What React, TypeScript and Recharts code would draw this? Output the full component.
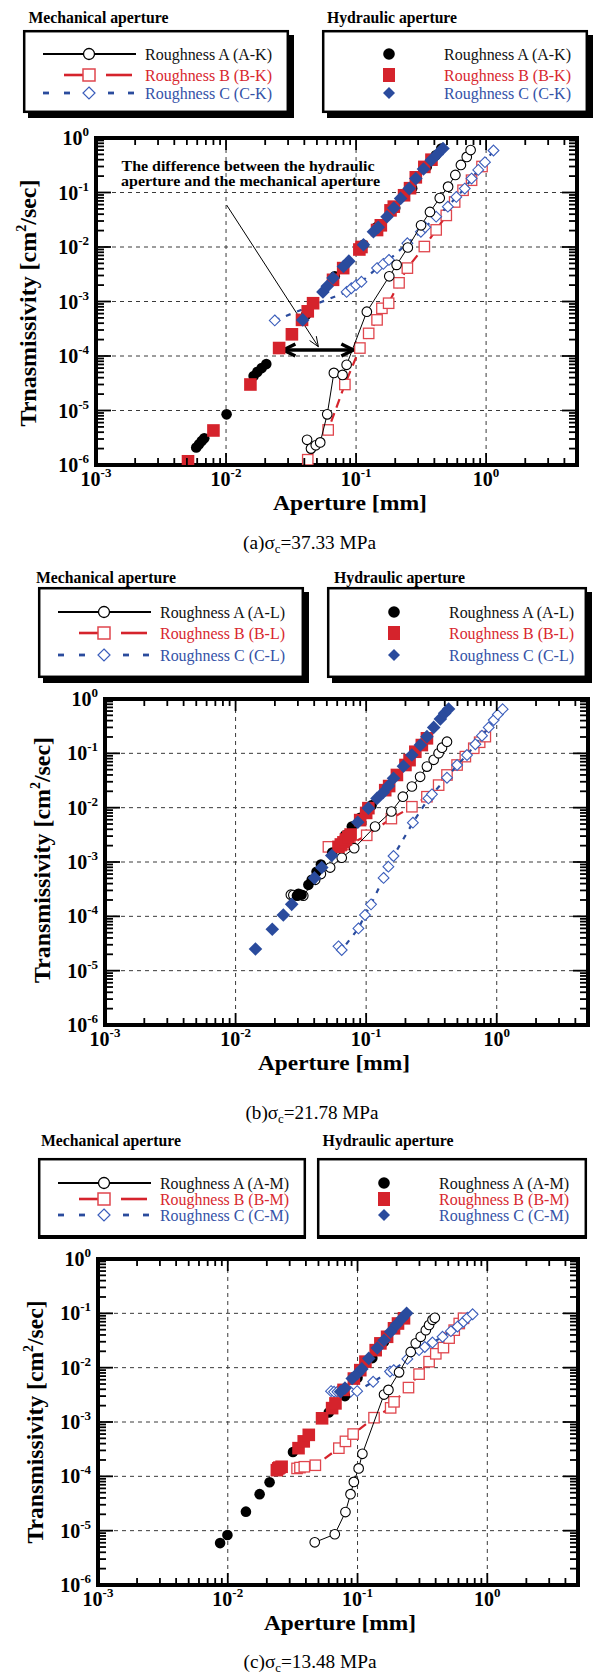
import React from "react";
import {
  ScatterChart,
  Scatter,
  XAxis,
  YAxis,
  ReferenceLine,
  ReferenceArea,
} from "recharts";

// Transmissivity vs aperture (log-log), three confining stresses.
// Open markers + lines = mechanical aperture, filled markers = hydraulic aperture.

const SERIF = '"Liberation Serif", "Times New Roman", Times, serif';
const RED = "#d5232c";
const RED_OPEN = "#e0464d";
const BLUE = "#2a4b9d";
const BLUE_OPEN = "#3a5dbb";
const RED_TEXT = "#d8282f";
const BLUE_TEXT = "#3452a7";

// ---- (a) sigma_c = 37.33 MPa : [aperture mm, transmissivity cm2/sec]
const aMechA = [
  [0.042, 2.9e-6], [0.045, 2.0e-6], [0.049, 2.3e-6], [0.053, 2.6e-6], [0.06, 8.5e-6],
  [0.0675, 4.9e-5], [0.0787, 4.5e-5], [0.0846, 6.9e-5], [0.121, 6.5e-4], [0.18, 2.9e-3],
  [0.205, 4.7e-3], [0.25, 0.0098], [0.316, 0.025], [0.37, 0.044], [0.44, 0.079],
  [0.51, 0.128], [0.58, 0.21], [0.64, 0.32], [0.71, 0.45], [0.76, 0.6],
];
const aMechB = [
  [0.0425, 1.25e-6], [0.061, 4.4e-6], [0.082, 3.0e-5], [0.107, 1.4e-4], [0.125, 2.6e-4],
  [0.145, 4.6e-4], [0.158, 7.5e-4], [0.178, 9.3e-4], [0.214, 2.2e-3], [0.248, 4.1e-3],
  [0.335, 0.0102], [0.413, 0.0206], [0.494, 0.038], [0.573, 0.067], [0.665, 0.11],
  [0.773, 0.168], [0.93, 0.3],
];
const aMechC = [
  [0.0237, 4.5e-4], [0.0846, 1.5e-3], [0.092, 1.75e-3], [0.1, 2.0e-3], [0.11, 2.3e-3],
  [0.145, 4.1e-3], [0.162, 4.9e-3], [0.179, 5.8e-3], [0.248, 0.0117], [0.315, 0.019],
  [0.34, 0.023], [0.413, 0.036], [0.508, 0.055], [0.59, 0.083], [0.685, 0.118],
  [0.773, 0.18], [0.87, 0.26], [0.98, 0.36], [1.14, 0.59],
];
const aHydA = [
  [0.0059, 2.1e-6], [0.0062, 2.4e-6], [0.0065, 2.75e-6], [0.0068, 3.1e-6], [0.0101, 8.5e-6],
  [0.0163, 4.3e-5], [0.0174, 5.1e-5], [0.0188, 6.0e-5], [0.0204, 7.1e-5], [0.0413, 5.7e-4],
  [0.0686, 2.9e-3], [0.114, 0.011], [0.145, 0.0234], [0.2, 0.052], [0.27, 0.12],
  [0.35, 0.3], [0.41, 0.48], [0.452, 0.64],
];
const aHydB = [
  [0.0051, 1.17e-6], [0.008, 4.3e-6], [0.0154, 3.0e-5], [0.0256, 1.4e-4], [0.0321, 2.5e-4],
  [0.0384, 4.6e-4], [0.0425, 6.6e-4], [0.0467, 9.3e-4], [0.0665, 2.5e-3], [0.0796, 4.1e-3],
  [0.106, 9.0e-3], [0.11, 0.01], [0.145, 0.0205], [0.155, 0.025], [0.184, 0.047],
  [0.195, 0.055], [0.234, 0.089], [0.26, 0.12], [0.288, 0.19], [0.335, 0.295], [0.38, 0.4],
];
const aHydC = [
  [0.0389, 4.6e-4], [0.0556, 1.5e-3], [0.06, 1.9e-3], [0.0665, 2.7e-3], [0.08, 4.4e-3],
  [0.088, 5.5e-3], [0.114, 0.011], [0.136, 0.019], [0.148, 0.023], [0.173, 0.036],
  [0.195, 0.052], [0.22, 0.078], [0.256, 0.118], [0.288, 0.18], [0.33, 0.27],
  [0.378, 0.39], [0.42, 0.5], [0.466, 0.64],
];

// ---- (b) sigma_c = 21.78 MPa
const bMechA = [
  [0.0265, 2.5e-4], [0.0277, 2.46e-4], [0.0303, 2.46e-4], [0.033, 2.4e-4], [0.0407, 4.7e-4],
  [0.045, 6.0e-4], [0.053, 7.9e-4], [0.065, 1.2e-3], [0.081, 1.8e-3], [0.117, 4.5e-3],
  [0.156, 8.5e-3], [0.191, 0.0159], [0.224, 0.0245], [0.259, 0.037], [0.292, 0.057],
  [0.329, 0.076], [0.359, 0.1], [0.381, 0.127], [0.416, 0.164],
];
const bMechB = [
  [0.0514, 1.9e-3], [0.064, 2.0e-3], [0.075, 2.1e-3], [0.101, 3.1e-3], [0.156, 6.3e-3],
  [0.224, 0.0104], [0.292, 0.0159], [0.359, 0.026], [0.416, 0.04], [0.497, 0.061],
  [0.575, 0.087], [0.667, 0.124], [0.74, 0.16], [0.818, 0.203],
];
const bMechC = [
  [0.0614, 2.8e-5], [0.065, 2.4e-5], [0.0873, 6.0e-5], [0.098, 1.06e-4], [0.109, 1.66e-4],
  [0.136, 5.1e-4], [0.148, 8.2e-4], [0.162, 1.29e-3], [0.228, 5.3e-3], [0.3, 0.0148],
  [0.319, 0.0176], [0.416, 0.0356], [0.497, 0.061], [0.592, 0.093], [0.686, 0.147],
  [0.771, 0.211], [0.868, 0.3], [0.949, 0.41], [1.02, 0.52], [1.11, 0.65],
];
const bHydA = [
  [0.0295, 2.4e-4], [0.0303, 2.6e-4], [0.032, 2.5e-4], [0.0361, 3.8e-4], [0.0383, 4.7e-4],
  [0.0417, 6.6e-4], [0.045, 9.0e-4], [0.055, 1.5e-3], [0.069, 3.1e-3], [0.0777, 4.5e-3],
  [0.09, 6.5e-3], [0.11, 0.011],
];
const bHydB = [
  [0.0614, 1.9e-3], [0.064, 2.1e-3], [0.067, 2.3e-3], [0.07, 2.6e-3], [0.073, 2.9e-3],
  [0.076, 3.2e-3], [0.09, 5.9e-3], [0.1, 8.0e-3], [0.104, 0.0098], [0.14, 0.021],
  [0.15, 0.025], [0.172, 0.04], [0.2, 0.061], [0.215, 0.075], [0.238, 0.107],
  [0.267, 0.142], [0.292, 0.189],
];
const bHydC = [
  [0.0142, 2.5e-5], [0.0191, 5.8e-5], [0.0232, 1.06e-4], [0.0269, 1.66e-4], [0.0402, 5.1e-4],
  [0.0457, 7.9e-4], [0.0545, 1.32e-3], [0.0863, 5.4e-3], [0.104, 9.8e-3], [0.121, 0.0148],
  [0.135, 0.019], [0.148, 0.025], [0.162, 0.0347], [0.193, 0.058], [0.224, 0.093],
  [0.26, 0.142], [0.292, 0.203], [0.329, 0.3], [0.37, 0.43], [0.399, 0.545], [0.428, 0.654],
];

// ---- (c) sigma_c = 13.48 MPa
const cMechA = [
  [0.0468, 6.1e-6], [0.0668, 8.6e-6], [0.0807, 2.2e-5], [0.0883, 4.7e-5], [0.0937, 7.9e-5],
  [0.102, 1.4e-4], [0.109, 2.6e-4], [0.16, 3.2e-3], [0.173, 3.9e-3], [0.209, 8.2e-3],
  [0.257, 0.0195], [0.281, 0.028], [0.307, 0.037], [0.336, 0.049], [0.356, 0.061],
  [0.378, 0.076], [0.394, 0.083],
];
const cMechB = [
  [0.0342, 1.4e-4], [0.036, 1.45e-4], [0.0389, 1.5e-4], [0.0473, 1.6e-4], [0.0718, 3.3e-4],
  [0.0807, 4.4e-4], [0.0925, 6.0e-4], [0.134, 1.2e-3], [0.18, 1.82e-3], [0.191, 2.35e-3],
  [0.247, 4.3e-3], [0.298, 7.6e-3], [0.356, 0.0129], [0.401, 0.018], [0.459, 0.0234],
  [0.508, 0.035], [0.556, 0.049], [0.608, 0.065], [0.656, 0.081],
];
const cMechC = [
  [0.0625, 3.7e-3], [0.066, 3.6e-3], [0.07, 3.6e-3], [0.076, 3.5e-3], [0.0883, 3.6e-3],
  [0.0993, 3.7e-3], [0.132, 5.5e-3], [0.178, 8.5e-3], [0.19, 9.0e-3], [0.242, 0.0145],
  [0.298, 0.021], [0.33, 0.024], [0.378, 0.029], [0.452, 0.037], [0.524, 0.047],
  [0.59, 0.057], [0.656, 0.07], [0.705, 0.083], [0.771, 0.096],
];
const cHydA = [
  [0.00873, 5.9e-6], [0.00994, 8.3e-6], [0.0138, 2.24e-5], [0.0176, 4.7e-5], [0.021, 7.8e-5],
  [0.0318, 2.8e-4], [0.06, 1.5e-3], [0.08, 3.0e-3], [0.1, 6.5e-3], [0.13, 0.015],
  [0.16, 0.03], [0.2, 0.06],
];
const cHydB = [
  [0.0239, 1.3e-4], [0.0245, 1.4e-4], [0.025, 1.45e-4], [0.026, 1.5e-4], [0.0351, 3.3e-4],
  [0.0385, 4.4e-4], [0.0421, 5.8e-4], [0.0533, 1.17e-3], [0.0637, 1.8e-3], [0.0676, 2.2e-3],
  [0.078, 3.9e-3], [0.0937, 6.3e-3], [0.105, 9.0e-3], [0.115, 0.0129], [0.138, 0.021],
  [0.15, 0.028], [0.169, 0.037], [0.191, 0.053], [0.205, 0.065], [0.228, 0.081],
];
const cHydC = [
  [0.074, 3.6e-3], [0.08, 4.2e-3], [0.091, 6.3e-3], [0.1, 7.8e-3], [0.108, 9.5e-3],
  [0.122, 0.0148], [0.142, 0.023], [0.16, 0.032], [0.18, 0.046], [0.2, 0.062],
  [0.221, 0.081], [0.239, 0.1],
];

// axes
const X_DOMAIN = [0.001, 5];
const Y_DOMAIN = [1e-6, 1];
const xDecades = [0.001, 0.01, 0.1, 1];
const yDecades = [1e-6, 1e-5, 1e-4, 1e-3, 1e-2, 1e-1, 1];
const minorSteps = [1, 2, 3, 4, 5, 6, 7, 8, 9];
const xTicks = xDecades
  .flatMap((d) => minorSteps.map((s) => +(s * d).toPrecision(3)))
  .filter((v) => v < 5);
const yTicks = yDecades
  .flatMap((d) => minorSteps.map((s) => +(s * d).toPrecision(3)))
  .filter((v) => v <= 1);
const gridX = [0.01, 0.1, 1];
const gridY = [1e-5, 1e-4, 1e-3, 1e-2, 1e-1];

const pts = (a: number[][]) => a.map(([x, y]) => ({ x, y }));

const isMajor = (v: number) => {
  const l = Math.log10(v);
  return Math.abs(l - Math.round(l)) < 1e-6;
};

function XTick(props: any) {
  const { x, y, payload, plotH } = props;
  const major = isMajor(payload.value);
  const len = major ? 12 : 7;
  const exp = Math.round(Math.log10(payload.value));
  return (
    <g>
      <line x1={x} x2={x} y1={y} y2={y - len} stroke="#000" strokeWidth={1.8} />
      <line x1={x} x2={x} y1={y - plotH} y2={y - plotH + len} stroke="#000" strokeWidth={1.8} />
      {major && (
        <text x={x} y={y + 21} textAnchor="middle" fontFamily={SERIF} fontWeight="bold" fontSize={20} fill="#000">
          10
          <tspan dy={-9} fontSize={13}>{exp}</tspan>
        </text>
      )}
    </g>
  );
}

function YTick(props: any) {
  const { x, y, payload, plotW } = props;
  const major = isMajor(payload.value);
  const len = major ? 15 : 8;
  const exp = Math.round(Math.log10(payload.value));
  return (
    <g>
      <line x1={x} x2={x + len} y1={y} y2={y} stroke="#000" strokeWidth={1.8} />
      <line x1={x + plotW} x2={x + plotW - len} y1={y} y2={y} stroke="#000" strokeWidth={1.8} />
      {major && (
        <text x={x - 7} y={y + 7} textAnchor="end" fontFamily={SERIF} fontWeight="bold" fontSize={20} fill="#000">
          10
          <tspan dy={-9} fontSize={13}>{exp}</tspan>
        </text>
      )}
    </g>
  );
}

const openCircle = (p: any) => (
  <circle cx={p.cx} cy={p.cy} r={4.8} fill="#fff" stroke="#000" strokeWidth={1.1} />
);
const solidCircle = (p: any) => <circle cx={p.cx} cy={p.cy} r={5.3} fill="#000" />;
const openSquare = (p: any) => (
  <rect x={p.cx - 5.2} y={p.cy - 5.2} width={10.4} height={10.4} fill="#fff" stroke={RED_OPEN} strokeWidth={1.3} />
);
const solidSquare = (p: any) => (
  <rect x={p.cx - 6.3} y={p.cy - 6.3} width={12.6} height={12.6} fill={RED} />
);
const diamondPath = (cx: number, cy: number, r: number) =>
  `M${cx},${cy - r}L${cx + r},${cy}L${cx},${cy + r}L${cx - r},${cy}Z`;
const openDiamond = (p: any) => (
  <path d={diamondPath(p.cx, p.cy, 5.4)} fill="#fff" stroke={BLUE_OPEN} strokeWidth={1.1} />
);
const solidDiamond = (p: any) => <path d={diamondPath(p.cx, p.cy, 6.8)} fill={BLUE} />;

// arrow shapes for the annotation in (a)
function headLines(tx: number, ty: number, ux: number, uy: number, l: number, w: number) {
  const nx = -uy;
  const ny = ux;
  return `M${tx - ux * l + nx * w},${ty - uy * l + ny * w}L${tx},${ty}L${tx - ux * l - nx * w},${ty - uy * l - ny * w}`;
}
const ThinArrow = (p: any) => {
  const { x1, y1, x2, y2 } = p;
  const L = Math.hypot(x2 - x1, y2 - y1) || 1;
  const ux = (x2 - x1) / L;
  const uy = (y2 - y1) / L;
  return (
    <g>
      <line x1={x1} y1={y1} x2={x2} y2={y2} stroke="#000" strokeWidth={1} />
      <path d={headLines(x2, y2, ux, uy, 10, 4)} fill="none" stroke="#000" strokeWidth={1} />
    </g>
  );
};
const DoubleArrow = (p: any) => {
  const { x1, y1, x2, y2 } = p;
  const L = Math.hypot(x2 - x1, y2 - y1) || 1;
  const ux = (x2 - x1) / L;
  const uy = (y2 - y1) / L;
  return (
    <g>
      <line x1={x1} y1={y1} x2={x2} y2={y2} stroke="#000" strokeWidth={3.5} />
      <path d={headLines(x2, y2, ux, uy, 12, 6)} fill="none" stroke="#000" strokeWidth={3.5} />
      <path d={headLines(x1, y1, -ux, -uy, 12, 6)} fill="none" stroke="#000" strokeWidth={3.5} />
    </g>
  );
};

type Margin = { top: number; right: number; left: number; bottom: number };

function Panel(props: {
  top: number;
  margin: Margin;
  plotW: number;
  plotH: number;
  mechA: number[][];
  mechB: number[][];
  mechC: number[][];
  hydA: number[][];
  hydB: number[][];
  hydC: number[][];
  annotate?: boolean;
}) {
  const { top, margin, plotW, plotH } = props;
  return (
    <div style={{ position: "absolute", left: 0, top }}>
      <ScatterChart width={595} height={380} margin={margin}>
        <XAxis
          dataKey="x"
          type="number"
          scale="log"
          domain={X_DOMAIN}
          allowDataOverflow
          ticks={xTicks}
          interval={0}
          height={30}
          axisLine={false}
          tickLine={false}
          tickSize={0}
          tickMargin={0}
          tick={(p: any) => <XTick {...p} plotH={plotH} />}
        />
        <YAxis
          dataKey="y"
          type="number"
          scale="log"
          domain={Y_DOMAIN}
          allowDataOverflow
          ticks={yTicks}
          interval={0}
          width={60}
          axisLine={false}
          tickLine={false}
          tickSize={0}
          tickMargin={0}
          tick={(p: any) => <YTick {...p} plotW={plotW} />}
        />
        {gridX.map((v) => (
          <ReferenceLine key={"gx" + v} x={v} stroke="#3a3a3a" strokeWidth={1} strokeDasharray="4 4" />
        ))}
        {gridY.map((v) => (
          <ReferenceLine key={"gy" + v} y={v} stroke="#3a3a3a" strokeWidth={1} strokeDasharray="4 4" />
        ))}
        <ReferenceArea
          x1={X_DOMAIN[0]}
          x2={X_DOMAIN[1]}
          y1={Y_DOMAIN[0]}
          y2={Y_DOMAIN[1]}
          fill="none"
          fillOpacity={0}
          stroke="#000"
          strokeWidth={4}
          ifOverflow="visible"
        />
        <Scatter
          name="Roughness B mech"
          data={pts(props.mechB)}
          shape={openSquare}
          line={{ stroke: RED, strokeWidth: 2.2, strokeDasharray: "9 6" }}
          isAnimationActive={false}
        />
        <Scatter
          name="Roughness C mech"
          data={pts(props.mechC)}
          shape={openDiamond}
          line={{ stroke: BLUE, strokeWidth: 2.2, strokeDasharray: "5 7" }}
          isAnimationActive={false}
        />
        <Scatter
          name="Roughness A mech"
          data={pts(props.mechA)}
          shape={openCircle}
          line={{ stroke: "#000", strokeWidth: 1 }}
          isAnimationActive={false}
        />
        <Scatter name="Roughness A hyd" data={pts(props.hydA)} shape={solidCircle} isAnimationActive={false} />
        <Scatter name="Roughness B hyd" data={pts(props.hydB)} shape={solidSquare} isAnimationActive={false} />
        <Scatter name="Roughness C hyd" data={pts(props.hydC)} shape={solidDiamond} isAnimationActive={false} />
        {props.annotate && (
          <ReferenceLine
            segment={[
              { x: 0.0101, y: 0.059 },
              { x: 0.0513, y: 1.48e-4 },
            ]}
            shape={ThinArrow}
            ifOverflow="visible"
          />
        )}
        {props.annotate && (
          <ReferenceLine
            segment={[
              { x: 0.0276, y: 1.29e-4 },
              { x: 0.0953, y: 1.29e-4 },
            ]}
            shape={DoubleArrow}
            ifOverflow="visible"
          />
        )}
      </ScatterChart>
    </div>
  );
}

// ---- legends
function MechSample({ kind, mx, y }: { kind: number; mx: number; y: number }) {
  if (kind === 0)
    return (
      <g>
        <line x1={mx - 46} x2={mx + 47} y1={y} y2={y} stroke="#000" strokeWidth={2.2} />
        <circle cx={mx} cy={y} r={5.5} fill="#fff" stroke="#000" strokeWidth={1.3} />
      </g>
    );
  if (kind === 1)
    return (
      <g>
        <line x1={mx - 25} x2={mx - 6} y1={y} y2={y} stroke={RED} strokeWidth={2.6} />
        <rect x={mx - 6} y={y - 6} width={12} height={12} fill="#fff" stroke={RED_OPEN} strokeWidth={1.5} />
        <line x1={mx + 17} x2={mx + 43} y1={y} y2={y} stroke={RED} strokeWidth={2.6} />
      </g>
    );
  return (
    <g>
      {[[-46, -40], [-25, -19], [19, 25], [39, 45]].map(([a, b]) => (
        <line key={a} x1={mx + a} x2={mx + b} y1={y} y2={y} stroke={BLUE} strokeWidth={2.8} />
      ))}
      <path d={diamondPath(mx, y, 6)} fill="#fff" stroke={BLUE_OPEN} strokeWidth={1.2} />
    </g>
  );
}

function HydSample({ kind, mx, y }: { kind: number; mx: number; y: number }) {
  if (kind === 0) return <circle cx={mx} cy={y} r={5.8} fill="#000" />;
  if (kind === 1) return <rect x={mx - 6} y={y - 7} width={12} height={14} fill={RED} />;
  return <path d={diamondPath(mx, y, 6)} fill={BLUE} />;
}

const textColors = ["#111", RED_TEXT, BLUE_TEXT];

function LegendBox(props: {
  x: number;
  y: number;
  w: number;
  h: number;
  rows: number[];
  labels: string[];
  mech: boolean;
  shadow: boolean;
  textLen: number;
}) {
  const { x, y, w, h, rows, labels, mech, shadow, textLen } = props;
  return (
    <svg
      style={{ position: "absolute", left: x - 2, top: y - 2 }}
      width={w + 10}
      height={h + 10}
    >
      <g transform="translate(2,2)">
        {shadow && <rect x={5} y={5} width={w} height={h} fill="#000" />}
        <rect x={1.2} y={1.2} width={w - 2.4} height={h - 2.4} fill="#fff" stroke="#000" strokeWidth={2.5} />
        {!shadow && <line x1={0} x2={w} y1={h - 1} y2={h - 1} stroke="#000" strokeWidth={4} />}
        {rows.map((ry, i) => (
          <g key={i}>
            {mech ? <MechSample kind={i} mx={66} y={ry} /> : <HydSample kind={i} mx={67} y={ry} />}
            <text
              x={122}
              y={ry + 5.5}
              fontFamily={SERIF}
              fontSize={16.5}
              fill={textColors[i]}
              textLength={textLen}
              lengthAdjust="spacingAndGlyphs"
            >
              {labels[i]}
            </text>
          </g>
        ))}
      </g>
    </svg>
  );
}

// page-level texts (titles, axis titles, captions)
function T(props: {
  x: number;
  y: number;
  len: number;
  size: number;
  bold?: boolean;
  anchor?: "start" | "middle" | "end";
  children: React.ReactNode;
}) {
  return (
    <text
      x={props.x}
      y={props.y}
      fontFamily={SERIF}
      fontSize={props.size}
      fontWeight={props.bold ? "bold" : "normal"}
      textAnchor={props.anchor || "start"}
      textLength={props.len}
      lengthAdjust="spacingAndGlyphs"
      fill="#000"
    >
      {props.children}
    </text>
  );
}

function YTitle({ cx, cy, len, text }: { cx: number; cy: number; len: number; text: string }) {
  return (
    <g transform={`translate(${cx},${cy}) rotate(-90)`}>
      <text
        x={0}
        y={6}
        fontFamily={SERIF}
        fontSize={24}
        fontWeight="bold"
        textAnchor="middle"
        textLength={len}
        lengthAdjust="spacingAndGlyphs"
        fill="#000"
      >
        {text} [cm
        <tspan dy={-10} fontSize={14}>2</tspan>
        <tspan dy={10}>/sec]</tspan>
      </text>
    </g>
  );
}

function Caption({ cx, y, tag, value }: { cx: number; y: number; tag: string; value: string }) {
  return (
    <text
      x={cx}
      y={y}
      fontFamily={SERIF}
      fontSize={18}
      textAnchor="middle"
      textLength={133}
      lengthAdjust="spacingAndGlyphs"
      fill="#000"
    >
      ({tag})σ
      <tspan dy={4} fontSize={12}>c</tspan>
      <tspan dy={-4}>={value} MPa</tspan>
    </text>
  );
}

const labelsFor = (s: string) => [
  `Roughness A (A-${s})`,
  `Roughness B (B-${s})`,
  `Roughness C (C-${s})`,
];

export default function App() {
  return (
    <div
      style={{
        position: "absolute",
        left: 0,
        top: 0,
        width: 595,
        height: 1674,
        background: "#fff",
        overflow: "hidden",
      }}
    >
      {/* (a) */}
      <LegendBox x={23} y={30} w={266} h={83} rows={[24, 45, 63]} labels={labelsFor("K")} mech shadow textLen={127} />
      <LegendBox x={322} y={30} w={266} h={83} rows={[24, 45, 63]} labels={labelsFor("K")} mech={false} shadow textLen={127} />
      <Panel
        top={120}
        margin={{ top: 18, right: 18, left: 36, bottom: 5 }}
        plotW={481}
        plotH={327}
        mechA={aMechA}
        mechB={aMechB}
        mechC={aMechC}
        hydA={aHydA}
        hydB={aHydB}
        hydC={aHydC}
        annotate
      />

      {/* (b) */}
      <LegendBox x={38} y={587} w={266} h={91} rows={[25, 46, 68]} labels={labelsFor("L")} mech shadow textLen={125} />
      <LegendBox x={327} y={587} w={260} h={91} rows={[25, 46, 68]} labels={labelsFor("L")} mech={false} shadow textLen={125} />
      <Panel
        top={680}
        margin={{ top: 19, right: 7, left: 45, bottom: 5 }}
        plotW={483}
        plotH={326}
        mechA={bMechA}
        mechB={bMechB}
        mechC={bMechC}
        hydA={bHydA}
        hydB={bHydB}
        hydC={bHydC}
      />

      {/* (c) */}
      <LegendBox x={38} y={1158} w={268} h={80} rows={[25, 41, 57]} labels={labelsFor("M")} mech shadow={false} textLen={129} />
      <LegendBox x={317} y={1158} w={270} h={80} rows={[25, 41, 57]} labels={labelsFor("M")} mech={false} shadow={false} textLen={130} />
      <Panel
        top={1240}
        margin={{ top: 19, right: 17, left: 38, bottom: 5 }}
        plotW={480}
        plotH={326}
        mechA={cMechA}
        mechB={cMechB}
        mechC={cMechC}
        hydA={cHydA}
        hydB={cHydB}
        hydC={cHydC}
      />

      <svg
        style={{ position: "absolute", left: 0, top: 0, pointerEvents: "none" }}
        width={595}
        height={1674}
      >
        {/* (a) */}
        <T x={28.5} y={22.5} len={140} size={16} bold>Mechanical aperture</T>
        <T x={327} y={22.5} len={130} size={16} bold>Hydraulic aperture</T>
        <T x={121.5} y={170.7} len={253} size={15.5} bold>The difference between the hydraulic</T>
        <T x={121} y={185.7} len={259} size={15.5} bold>aperture and the mechanical aperture</T>
        <T x={350} y={510} len={154} size={22} bold anchor="middle">Aperture [mm]</T>
        <YTitle cx={29.5} cy={303} len={247} text="Trnasmissivity" />
        <Caption cx={309.5} y={549} tag="a" value="37.33" />

        {/* (b) */}
        <T x={36} y={582.5} len={140} size={16} bold>Mechanical aperture</T>
        <T x={334} y={582.5} len={131} size={16} bold>Hydraulic aperture</T>
        <T x={334} y={1070} len={152} size={22} bold anchor="middle">Aperture [mm]</T>
        <YTitle cx={43.5} cy={860} len={246} text="Transmissivity" />
        <Caption cx={312} y={1119} tag="b" value="21.78" />

        {/* (c) */}
        <T x={41} y={1145.5} len={140} size={16} bold>Mechanical aperture</T>
        <T x={322.6} y={1145.5} len={131} size={16} bold>Hydraulic aperture</T>
        <T x={340} y={1630} len={152} size={22} bold anchor="middle">Aperture [mm]</T>
        <YTitle cx={37} cy={1422} len={243} text="Transmissivity" />
        <Caption cx={310} y={1668} tag="c" value="13.48" />
      </svg>
    </div>
  );
}
